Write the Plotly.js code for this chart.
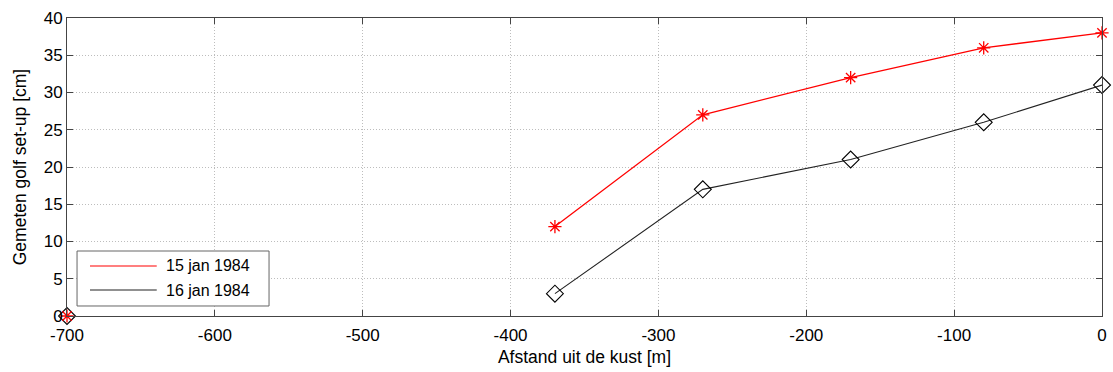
<!DOCTYPE html>
<html>
<head>
<meta charset="utf-8">
<script src="https://cdn.plot.ly/plotly-3.0.1.min.js"></script>
<style>html,body{margin:0;padding:0;background:#fff;}#chart{width:1113px;height:372px;}</style>
</head>
<body>
<div id="chart"></div>
<script>
// Data
var afstand = [-700, null, -370, -270, -170, -80, 0];
var setup15jan = [0, null, 12, 27, 32, 36, 38];
var setup16jan = [0, null, 3, 17, 21, 26, 31];
var seriesNames = ['15 jan 1984', '16 jan 1984'];
var seriesColors = ['#ff0000', '#222222'];
var xTicks = [-700, -600, -500, -400, -300, -200, -100, 0];
var yTicks = [0, 5, 10, 15, 20, 25, 30, 35, 40];

var FONT = 'Liberation Sans, Arial, Helvetica, sans-serif';

var traces = [
  {x: afstand, y: setup15jan, name: seriesNames[0], mode: 'lines', connectgaps: false,
   line: {color: seriesColors[0], width: 1.3}, showlegend: false, hoverinfo: 'skip', cliponaxis: false},
  {x: afstand, y: setup16jan, name: seriesNames[1], mode: 'lines', connectgaps: false,
   line: {color: seriesColors[1], width: 1.1}, showlegend: false, hoverinfo: 'skip', cliponaxis: false},
  {x: afstand, y: setup16jan, mode: 'markers', showlegend: false, cliponaxis: false,
   marker: {symbol: 'diamond-open', size: 13, color: '#000000', line: {width: 1.1, color: '#000000'}}},
  {x: afstand, y: setup15jan, mode: 'markers', showlegend: false, cliponaxis: false,
   marker: {symbol: 'asterisk-open', size: 11, color: '#ff0000', line: {width: 1.3, color: '#ff0000'}}}
];

// Legend box (MATLAB-style, line samples only), positioned in paper coordinates
var legBox = {x0: 0.0097, x1: 0.1952, y0: 0.0336, y1: 0.2181};
var legRows = [0.1678, 0.0872];
var shapes = [
  {type: 'rect', xref: 'paper', yref: 'paper', x0: legBox.x0, x1: legBox.x1, y0: legBox.y0, y1: legBox.y1,
   fillcolor: '#ffffff', line: {color: '#666666', width: 1}, layer: 'above'}
];
var annotations = [];
for (var i = 0; i < seriesNames.length; i++) {
  shapes.push({type: 'line', xref: 'paper', yref: 'paper', x0: 0.0222, x1: 0.0867,
    y0: legRows[i], y1: legRows[i], line: {color: seriesColors[i], width: 1.2}, layer: 'above'});
  annotations.push({xref: 'paper', yref: 'paper', x: 0.0940, y: legRows[i], xanchor: 'left', yanchor: 'middle',
    text: seriesNames[i], showarrow: false, font: {family: FONT, size: 16, color: '#000'}});
}

var axisCommon = {
  ticks: 'inside', ticklen: 6, tickcolor: '#444444', tickwidth: 1,
  showline: true, linecolor: '#444444', linewidth: 1, mirror: 'ticks',
  showgrid: true, gridcolor: '#bdbdbd', griddash: '1px,2px', gridwidth: 1,
  zeroline: false, tickfont: {family: FONT, size: 17, color: '#000'},
  automargin: false
};

var layout = {
  width: 1113, height: 372,
  margin: {l: 67, r: 11, t: 18, b: 56},
  paper_bgcolor: '#ffffff', plot_bgcolor: '#ffffff',
  font: {family: FONT, size: 17, color: '#000000'},
  showlegend: false,
  shapes: shapes,
  annotations: annotations,
  xaxis: Object.assign({}, axisCommon, {
    range: [-700, 0], tickvals: xTicks, ticktext: xTicks.map(String),
    ticklabelstandoff: 4,
    title: {text: 'Afstand uit de kust [m]', font: {family: FONT, size: 17.5, color: '#000'}, standoff: 6}
  }),
  yaxis: Object.assign({}, axisCommon, {
    range: [0, 40], tickvals: yTicks, ticktext: yTicks.map(String),
    title: {text: 'Gemeten golf set-up [cm]', font: {family: FONT, size: 17.5, color: '#000'}, standoff: 12}
  })
};

Plotly.newPlot('chart', traces, layout, {displayModeBar: false, staticPlot: true});
</script>
</body>
</html>
